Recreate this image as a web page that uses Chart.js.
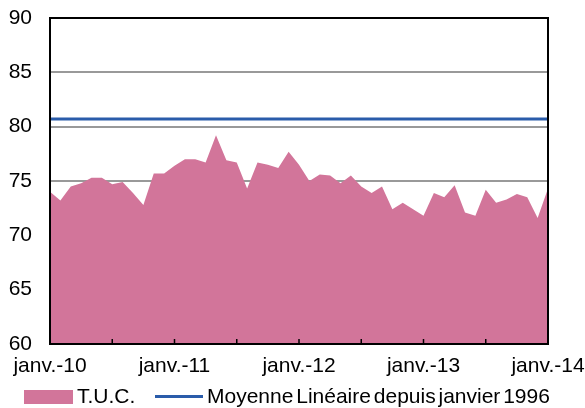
<!DOCTYPE html>
<html>
<head>
<meta charset="utf-8">
<script src="https://cdn.jsdelivr.net/npm/chart.js@4/dist/chart.umd.min.js"></script>
<style>
  html, body { margin: 0; padding: 0; background: #fff; }
  #wrap { position: relative; width: 585px; height: 408px; font-family: "Liberation Sans", Arial, sans-serif; }
  #chart { position: absolute; left: 0; top: 0; }
  .legend { position: absolute; top: 384px; left: 0; width: 585px; height: 24px; font-size: 21px; color: #000; }
  .legend .box { position: absolute; left: 24px; top: 6px; width: 49px; height: 14px; background: #D2759A; }
  .legend .line { position: absolute; left: 155px; top: 11px; width: 48px; height: 3px; background: #2A5CAA; }
  .legend span { position: absolute; top: 0px; white-space: nowrap; }
</style>
</head>
<body>
<div id="wrap">
  <canvas id="chart" width="585" height="408"></canvas>
  <div class="legend">
    <div class="box"></div><span style="left:77px">T.U.C.</span>
    <div class="line"></div><span style="left:207px; word-spacing:-3px">Moyenne Linéaire depuis janvier 1996</span>
  </div>
</div>
<script>
// monthly values, janv. 2010 -> janv. 2014
const years = ['10', '11', '12', '13', '14'];
const xTickLabels = ['janv.-10', 'janv.-11', 'janv.-12', 'janv.-13', 'janv.-14'];
const tucValues = [
  74.0, 73.2, 74.5, 74.8, 75.3, 75.3, 74.7, 74.9, 73.9, 72.8, 75.7, 75.7,
  76.4, 77.0, 77.0, 76.7, 79.2, 76.9, 76.7, 74.3, 76.7, 76.5, 76.2, 77.7,
  76.5, 75.0, 75.6, 75.5, 74.8, 75.5, 74.5, 73.9, 74.5, 72.4, 73.0, 72.4,
  71.8, 73.9, 73.5, 74.6, 72.1, 71.8, 74.2, 73.0, 73.3, 73.8, 73.5, 71.6,
  74.3
];
const averageLevel = 80.7;

// one category per month
const months = [];
years.forEach((y, i) => {
  const last = i === years.length - 1 ? 1 : 12;
  for (let m = 1; m <= last; m++) months.push(y + '-' + m);
});

// frame + inward tick marks every 6 months
const framePlugin = {
  id: 'frame',
  afterDatasetsDraw(chart) {
    const { ctx, chartArea: a, scales } = chart;
    ctx.save();
    ctx.strokeStyle = '#000';
    ctx.lineWidth = 2;
    ctx.strokeRect(a.left, a.top, a.right - a.left, a.bottom - a.top);
    ctx.lineWidth = 1.5;
    months.forEach((m, i) => {
      if (i % 6 !== 0) return;
      const x = scales.x.getPixelForValue(i);
      ctx.beginPath();
      ctx.moveTo(x, a.bottom);
      ctx.lineTo(x, a.bottom - 5);
      ctx.stroke();
    });
    ctx.restore();
  }
};

new Chart(document.getElementById('chart'), {
  type: 'line',
  data: {
    labels: months,
    datasets: [
      {
        label: 'T.U.C.',
        data: tucValues,
        fill: 'start',
        backgroundColor: '#D2759A',
        borderColor: '#D2759A',
        borderWidth: 0,
        pointRadius: 0,
        tension: 0,
        order: 2
      },
      {
        label: 'Moyenne Linéaire depuis janvier 1996',
        data: [{ x: months[0], y: averageLevel }, { x: months[months.length - 1], y: averageLevel }],
        borderColor: '#2A5CAA',
        borderWidth: 3,
        pointRadius: 0,
        fill: false,
        order: 1
      }
    ]
  },
  options: {
    responsive: false,
    animation: false,
    layout: { padding: { top: 18, right: 37, bottom: 24, left: 0 } },
    plugins: { legend: { display: false }, tooltip: { enabled: false } },
    scales: {
      x: {
        grid: { display: false },
        border: { display: false },
        ticks: {
          autoSkip: false,
          maxRotation: 0,
          padding: 2,
          color: '#000',
          font: { family: 'Liberation Sans', size: 21 },
          callback: (v, i) => i % 12 === 0 ? xTickLabels[i / 12] : ''
        },
        afterFit: s => { s.height = 40; s.paddingLeft = 0; s.paddingRight = 0; }
      },
      y: {
        min: 60,
        max: 90,
        ticks: {
          stepSize: 5,
          color: '#000',
          padding: 18,
          font: { family: 'Liberation Sans', size: 21 }
        },
        grid: { color: '#999', lineWidth: 2, drawTicks: false },
        border: { display: false },
        afterFit: s => { s.width = 50; s.paddingTop = 0; s.paddingBottom = 0; }
      }
    }
  },
  plugins: [framePlugin]
});
</script>
</body>
</html>
